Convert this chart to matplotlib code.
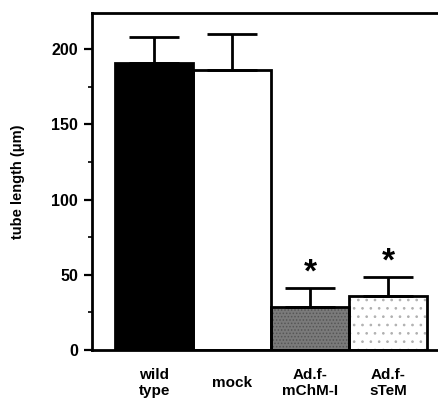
import numpy as np
import matplotlib
matplotlib.use('Agg')
import matplotlib.pyplot as plt

# data
groups = ['wild\ntype', 'mock', 'Ad.f-\nmChM-I', 'Ad.f-\nsTeM']
means = [191, 186, 28.5, 36]
errs = [17, 24, 12.5, 12.5]
signif = [False, False, True, True]

plt.rcParams['font.family'] = ['Liberation Sans', 'DejaVu Sans']
plt.rcParams['font.weight'] = 'bold'
plt.rcParams['hatch.linewidth'] = 0.7

fig = plt.figure(figsize=(4.39, 4.05), dpi=100)
ax = fig.add_axes([0.2096, 0.1358, 0.7854, 0.832])

x = np.arange(len(groups))
fills = ['black', 'white', '#7a7a7a', 'white']
hatches = [None, None, '.....', '..']
hatch_cols = ['black', 'black', '#555555', '#b0b0b0']

# fill + stipple layer, then black outline on top
for xi, m, f, h, hc in zip(x, means, fills, hatches, hatch_cols):
    ax.bar(xi, m, width=1.0, color=f, edgecolor=hc, linewidth=0, hatch=h, zorder=2)
ax.bar(x, means, width=1.0, color='none', edgecolor='black', linewidth=2.0, zorder=2.5)

ax.errorbar(x, means, yerr=[np.zeros(len(errs)), errs], fmt='none',
            ecolor='black', elinewidth=2.0, capsize=18, capthick=2.0, zorder=3)

for xi, m, e, s in zip(x, means, errs, signif):
    if s:
        ax.text(xi, m + e + 10, '*', ha='center', va='center',
                fontsize=24, fontweight='bold')

ax.set_xlim(-0.8, 3.62)
ax.set_ylim(0, 224)
ax.set_yticks([0, 50, 100, 150, 200])
ax.set_yticks([25, 75, 125, 175], minor=True)
ax.set_xticks(x)
ax.set_xticklabels(groups, fontsize=11, fontweight='bold', linespacing=1.2)
for lab in ax.get_xticklabels():
    lab.set_verticalalignment('center')
ax.tick_params(axis='x', length=0, pad=24)
ax.tick_params(axis='y', which='major', length=6, width=1.6, labelsize=11.5, pad=4)
ax.tick_params(axis='y', which='minor', length=3, width=1.2)
for lab in ax.get_yticklabels():
    lab.set_fontweight('bold')

ax.spines['right'].set_visible(False)
for sp in ['left', 'top', 'bottom']:
    ax.spines[sp].set_linewidth(2.0)

ax.set_ylabel('tube length (μm)', fontsize=10.5, fontweight='bold', labelpad=19)

fig.savefig('out.png', dpi=100)
